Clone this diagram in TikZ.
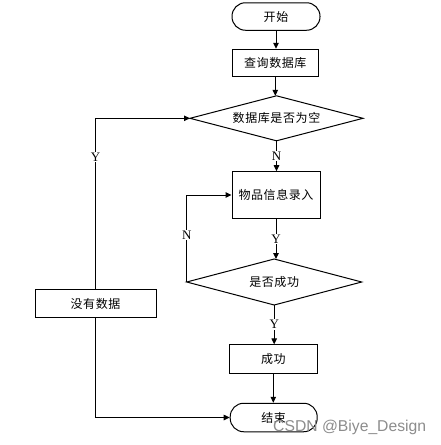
\documentclass[tikz,border=0pt]{standalone}
\usepackage{fontspec}
\setmainfont{Liberation Serif}
\newfontfamily\cjk[LetterSpace=5]{Noto Sans CJK SC}
\newfontfamily\wmfont{Liberation Sans}
\usetikzlibrary{shapes.geometric,arrows.meta}
\begin{document}
\begin{tikzpicture}[x=1pt,y=-1pt,
  base/.style={draw=black,line width=1pt,font=\cjk\fontsize{12}{14}\selectfont,inner sep=0pt,fill=white},
  term/.style={base,rounded corners=13.5pt,minimum width=88pt,minimum height=27.5pt},
  proc/.style={base,rectangle,minimum width=88pt,minimum height=28pt},
  dec/.style={base,diamond,inner sep=0pt,outer sep=0pt},
  dtext/.style={font=\cjk\fontsize{12}{14}\selectfont,inner sep=0pt},
  conn/.style={line width=1pt,-{Triangle[length=6pt,width=5.5pt]}},
  lbl/.style={fill=white,inner sep=1pt,font=\fontsize{13}{14}\selectfont}
]
\useasboundingbox (0,0) rectangle (441,445);
\node[term] (start) at (276,16.5) {开始};
\node[proc,minimum width=86pt,minimum height=27.4pt] (q) at (275.3,63) {查询数据库};
\node[dec,minimum width=173pt,minimum height=45pt] (d1) at (276.5,118.3) {};
\node[dtext] (d1t) at (d1) {数据库是否为空};
\node[proc,minimum width=88pt,minimum height=46.6pt] (in) at (276,195) {物品信息录入};
\node[dec,minimum width=175pt,minimum height=46pt] (d2) at (274.2,282) {};
\node[dtext] (d2t) at (d2) {是否成功};
\node[proc,minimum width=88pt,minimum height=28.3pt] (ok) at (273.3,359) {成功};
\node[term,minimum width=87pt,minimum height=28.5pt] (end) at (273.7,417.5) {结束};
\node[proc,minimum width=121pt,minimum height=28.4pt] (nodata) at (95.5,303.5) {没有数据};

\draw[conn] (start.south) -- (start.south |- q.north);
\draw[conn] (q.south) -- (q.south |- d1.north);
\draw[conn] (d1.south) -- node[lbl] (n1) {N} (d1.south |- in.north);
\draw[conn] (in.south) -- node[lbl] (y1) {Y} (in.south |- d2.north);
\draw[conn] (d2.west) |- node[lbl,pos=0.27] (n2) {N} (in.west);
\draw[conn] (d2.south) -- node[lbl] (y2) {Y} (d2.south |- ok.north);
\draw[conn] (ok.south) -- (ok.south |- end.north);
\draw[conn] (nodata.north) |- node[lbl,pos=0.387] (y3) {Y} (d1.west);
\draw[conn] (nodata.south) |- (end.west);

\node[text=black!45,font=\wmfont\fontsize{15.7}{16}\selectfont,anchor=base west,inner sep=0pt] (wm) at (273,431.7) {CSDN @Biye\_Design};
\end{tikzpicture}
\end{document}
